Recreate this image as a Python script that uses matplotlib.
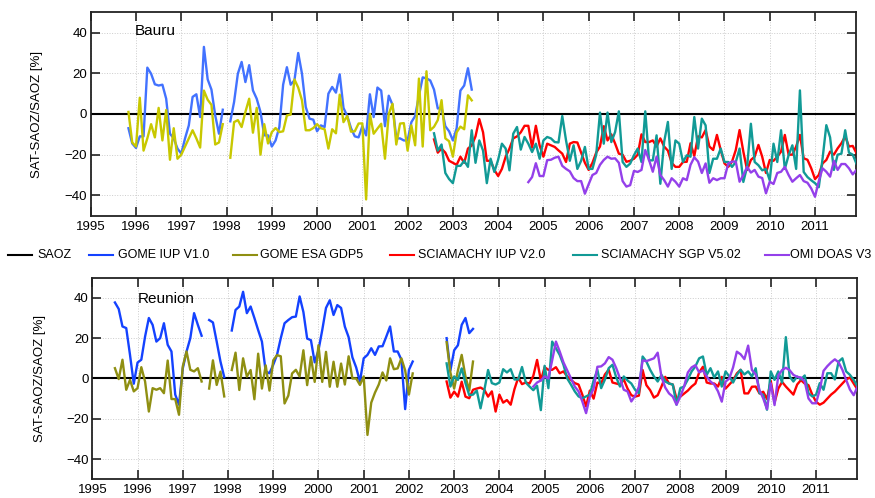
import numpy as np
import matplotlib
matplotlib.use("Agg")
import matplotlib.pyplot as plt
from matplotlib.lines import Line2D

nan = np.nan

# ---- Bauru (monthly values, % difference to SAOZ) ----
bauru_gome_iup_start = (1995, 11)
bauru_gome_iup = [
    -7, -14.5,
    -16.7, -11, -11, 22.8, 19.8, 14.6, 14, 14.4, 7.5, -9.7, -12, -17,
    -19.5, -12, -5.6, 8.4, 9.7, -1.5, 33, 17, 12, -0.7, -9.7, 2.1,
    nan, -3.6, 5.9, 19.8, 25.6, 15.7, 24, 11.6, 7.5, 1, -10.5, -10.5,
    -16, -13, -6.4, 14.4, 23, 14.4, 16.6, 30, 19.8, 3.4, -2.3, -2.8,
    -8.5, -5.6, -6.4, 10, 13.3, 10.5, 19.5, 3, -1, -7, -11, -11.5,
    -6, -10.5, 9.7, -1.5, 13, 11.5, -6, 9, 4.5, -12, -12, -13,
    -13, -4, -1, 9, 18, 17.5, 16.5, 12, 2.7, 3, -6, -8.5,
    -13, -7, 11.5, 14, 22.5, 12,
]
bauru_gome_esa_start = (1995, 11)
bauru_gome_esa = [
    1, -14,
    -16, 8, -18, -12, -5, -11.5, 3, -13, 2, -22.5, -7, -22,
    -20, -16, -12, -8, -12, -16.5, 11.5, 7, 4.5, -15, -14, -5,
    nan, -21.5, -4, -3, -6.4, 1, 7.5, -9.2, 3, -20, -5, -14.5,
    -8.9, -6.9, -8.9, -8.5, -0.7, -0.3, 17, 13, 6.7, -8, -8, -6.9,
    -5, -7, -7.5, -17, -7.5, -9.5, 9.5, -4, -1, -8.7, -8.5, -4.7,
    -4.6, -42, 0, -9.7, -7.2, -4.8, -22, 0, 5, -15, -4.7, -4.5,
    -18, -5.6, -15.4, 17.4, -16, 21, -8, -6.3, -3, 6.8, -12, -13.4,
    -21, -9, -6.2, -7.5, 9.2, 6.7,
]
bauru_scia_iup_start = (2002, 8)
bauru_scia_iup = [
    -12.5, -19, -17, -19, -23,
    -24, -25, -21, -24, -17, -15.5, -11, -2.5, -9, -23, -23, -27.5,
    -30.5, -27, -21, -17, -12, -11, -9, -5.8, -5.8, -16.5, -5.8, -15.5,
    -21, -14.6, -15.4, -16.2, -17.9, -19.5, -23.6, -14.6, -13.8, -14, -19, -24,
    -27.5, -24, -19, -16, -6, -13, -10, -14.5, -19.5, -20, -23.5, -23,
    -22, -20, -10, -13.8, -13.8, -13, -16, -12, -16, -18, -24, -26,
    -26, -23.6, -23.5, -14.4, -20.6, -11, -11.5, -7.9, -16, -17.7, -10.3, -17.7,
    -24.3, -26, -23.4, -17.7, -7.9, -18.5, -27.5, -22.6, -21, -15.2, -21, -29,
    -22.6, -23, -21, -18.5, -10.3, -20, -20, -16, -10.3, -21.8, -22.5, -26.7,
    -32, -30, -24.3, -22.6, -18.5, -20, -16.9, -14.4, -11, -16, -15.7, -19.3,
]
bauru_scia_sgp_start = (2002, 8)
bauru_scia_sgp = [
    -9.5, -18, -15, -29, -32,
    -34, -25.5, -25.5, -23, -26, -8, -24, -13, -18, -34, -22, -28.5,
    -22.5, -14.6, -17, -27.7, -9.7, -6.4, -17.5, -11.3, -14.6, -18.7, -14.6, -22,
    -13, -11.3, -12, -13.8, -14, -1, -13, -23, -15.4, -27, -23, -16.2,
    -27, -27, -20, 0.7, -14.6, 0.7, -13.8, -8.9, 1.3, -23.6, -26, -24.4,
    -20.3, -17, -23.6, 1.3, -22.8, -22.8, -10.5, -34.3, -13.8, -3.9, -27, -13,
    -14.6, -23.6, -20.3, -21, -1.5, -17, -2.3, -5.6, -29, -22, -22, -17,
    -23.6, -23.6, -26, -23.6, -17, -33.4, -26, -4.8, -23.6, -25.2, -27.7, -27,
    -32.6, -14.6, -23.6, -8, -27, -20.3, -15.4, -27, 11.6, -28.5, -31, -32.6,
    -34, -36, -22, -5.5, -11.5, -27.5, -20, -19.5, -8, -19, -20, -24.5,
]
bauru_omi_start = (2004, 9)
bauru_omi = [
    -33.5, -31, -24.2, -30.5,
    -30.5, -22.7, -22.5, -21.5, -21, -25.5, -27, -28.2, -31.5, -33, -33, -39.2,
    -34.5, -30, -29, -25, -22.6, -21, -22, -21.8, -24, -33, -35.7, -35,
    -28, -28.5, -27.5, -17.7, -22.6, -28.4, -21, -30, -32.5, -35.7, -31.6, -33.3,
    -35.7, -31.6, -32.5, -25, -21.3, -23.4, -29, -24.3, -33.8, -31.6, -32.5, -31.6,
    -31.6, -24.3, -23.4, -23.4, -33.3, -30, -26, -28.8, -27.5, -30.8, -31.5, -39,
    -33.3, -34.4, -29, -28.4, -26, -30, -33.3, -31.6, -30, -33, -33.8, -36.6,
    -40.7, -33, -26.7, -28.4, -30.8, -23, -27.5, -24.6, -24.6, -26.7, -29.7, -27.5,
]

# ---- Reunion ----
reunion_gome_iup_start = (1995, 7)
reunion_gome_iup = [
    37.7, 34.5, 25.8, 25, 11.7, -2.6,
    7.9, 9.3, 20.8, 30, 26.6, 18.3, 20, 27.4, 16.7, 13.4, -8, -13,
    5, 13.4, 20, 32.4, 26.6, 21.2, nan, 29, 27.8, 18.3, 8.4, 0.7,
    nan, 23.8, 34, 35.7, 43, 32.4, 35.7, 30, 24, 18.3, 3.5, 2.6,
    6.8, 11.7, 20, 27.4, 29, 30.4, 30.7, 40.7, 33, 19.8, 19, 8,
    14, 24, 35, 38.8, 31.5, 36.4, 35, 25.7, 20.5, 10.5, 5.5, -1.6,
    10, 11.7, 15, 11.7, 15.9, 16, 20.8, 25.8, 13.4, 13.4, 9.3, -15.2,
    4.3, 8.4, nan, nan, nan, nan, nan, nan, nan, nan, 20, 4,
    14, 16.5, 26.6, 30, 22.5, 24.6,
]
reunion_gome_esa_start = (1995, 7)
reunion_gome_esa = [
    5.1, -0.3, 9.3, -5.6, -0.7, -6.4,
    -4.8, 5.6, -1.5, -16.4, -4.8, -5.6, -4.8, -7.3, 8.9, -10.2, -10.2, -18,
    6, 13.4, 4.3, 3.5, 5.1, -1.5, nan, -5, 9, -3.2, 3.4, -8.9,
    nan, 4.2, 12.8, -5.7, 10, 0.9, 4.2, -10.3, 12.3, -5, 6.5, -6,
    9, 11.6, 11, -12.4, -8.5, 2.5, 4.3, 1, 14, -3.3, 10.7, -1.7,
    16.5, -1.7, 13.2, -4.1, 8.3, -4.1, 7.4, -3, 11, 0, 0, -3.2,
    1, -28, -12, -7, -3, 3, -1, 10, 4.6, 5, 10, 4,
    -8, 2.5, nan, nan, nan, nan, nan, nan, nan, nan, 18, 3,
    -5, 4, 11.7, 1, -6, 8.4,
]
reunion_scia_iup_start = (2002, 11)
reunion_scia_iup = [
    -1.5, -9.5,
    -6.5, -9, -1.6, -9, -9.8, -5.6, -5, -4.5, -5.6, -9, -6.4, -16.4,
    -8, -12, -10.7, -13, -5.3, 0.4, -2.8, -2, -2.5, 1.3, 9.2, -1,
    5.6, 4.3, 4.3, 5.6, 2.6, 3.5, 1, -0.7, -2.3, -3, -8, -13.9,
    -6, -10, -2, -2.5, 2, 4.3, -2, -2.5, -3, -0.5, -5, -8.3,
    -9, -8.5, 4.2, -3.3, -5.8, -9.5, -8.3, -4, 0.8, -2.5, -3, -10,
    -9, -7.5, -6, -4, -2.5, 3, 5.8, -2, -2.5, -2.5, -4, 0.8,
    -5, -3, -1, 2.5, 4.3, -7.4, -7.4, -4.1, -4, -7.4, -6.6, -10.2,
    -1.2, -12, -5, -1.7, -4, -6, -8, -3, -0.8, -2.5, -3.3, -8,
    -11.5, -13, -12, -10, -8, -6.5, -4.5, -2.5, -0.5, 0.5, -2.5, -5.5,
]
reunion_scia_sgp_start = (2002, 11)
reunion_scia_sgp = [
    7.5, -4,
    1, -0.7, 5, -2.3, -8.3, -8, -6, -14.8, -5.8, 4.2, -2.3, -3,
    -2, 4.6, 3, 4.6, -0.5, -0.5, 5.7, -2, -4, -5.8, -3.6, -15.7,
    6.3, -4.8, 18.3, 15, 11.7, 6.8, 0, -3.1, -6.4, -8.9, -9.8, -8.9,
    -8, -1, 4.3, -4.8, -0.5, 5.1, 6.8, 0.5, -4, 1, -1, -2.5,
    -5.6, -7.3, 10.9, 8.4, 4.3, 1, -1.5, 1.8, -1.5, -2.5, -3, -13,
    -4.8, -4, -0.5, 3.5, 6, 10, 10.9, 1.8, 5.1, 0.5, 3.5, -4,
    3.5, 1, -2, 1.8, 4.3, 2, 3.5, 1, 5.1, -7.3, -8.1, -15.5,
    3.5, -0.7, 3.5, -2, 20.5, 1, -1.5, 1, -0.5, 1.5, -7.3, -8.9,
    -8.1, -2.3, -5.6, 2.6, 2.6, -0.5, 8.4, 10, 3.5, 1.8, -0.7, -4,
]
reunion_omi_start = (2004, 10)
reunion_omi = [
    -4, -2, -1,
    1, 0, 9, 18.3, 13.4, 8, 4, 0, -4, -6.4, -11.4, -17.2,
    -9, -5, 5.8, 6, 7.5, 10.6, 9.3, 5.1, 0, -5.6, -6.4, -11.4,
    -8.6, -4.1, 9, 8.6, 9.3, 10, 12.8, 0.8, -4.5, -7.4, -9, -13,
    -9, -4, 3, 5.5, 6.6, 3, 4, 1, -1.5, -3, -6.4, -11.5,
    -1.6, 0, 5.5, 13.3, 12, 9.6, 16.3, 4.2, 2, -5.7, -9.9, -15.2,
    -2.4, -13.2, 1.5, 4.2, 5.3, 4.1, 1.8, 0.8, 0.5, -1.5, -9.9, -12.3,
    -12.3, -5.6, 3.8, 6.1, 8, 9.5, 8, 4.3, -0.7, -5.5, -8.3, -4.1,
]

legend_labels = ["SAOZ", "GOME IUP V1.0", "GOME ESA GDP5",
                 "SCIAMACHY IUP V2.0", "SCIAMACHY SGP V5.02", "OMI DOAS V3"]
years = list(range(1995, 2012))
yticks = [-40, -20, 0, 20, 40]


def monthly(start, values):
    y0, m0 = start
    t = y0 + (m0 - 1) / 12 + np.arange(len(values)) / 12
    return t, np.array(values, dtype=float)


plt.rcParams['font.family'] = ['Liberation Sans', 'DejaVu Sans']

fig = plt.figure(figsize=(8.75, 4.98), dpi=100)
ax_top = fig.add_axes([0.1037, 0.5669, 0.8743, 0.4084])
ax_bot = fig.add_axes([0.1055, 0.0376, 0.8736, 0.4048])

top_colors = ["#4272ff", "#c8c800", "#ff0000", "#119a96", "#9440ea"]
bot_colors = ["#1442ff", "#8f8f12", "#ff0000", "#119a96", "#9440ea"]

top_series = [(bauru_gome_iup_start, bauru_gome_iup),
              (bauru_gome_esa_start, bauru_gome_esa),
              (bauru_scia_iup_start, bauru_scia_iup),
              (bauru_scia_sgp_start, bauru_scia_sgp),
              (bauru_omi_start, bauru_omi)]
bot_series = [(reunion_gome_iup_start, reunion_gome_iup),
              (reunion_gome_esa_start, reunion_gome_esa),
              (reunion_scia_iup_start, reunion_scia_iup),
              (reunion_scia_sgp_start, reunion_scia_sgp),
              (reunion_omi_start, reunion_omi)]

for ax, series, colors, name, lab_pos, ylab_x in [
        (ax_top, top_series, top_colors, "Bauru", (0.058, 0.908), -0.062),
        (ax_bot, bot_series, bot_colors, "Reunion", (0.06, 0.893), -0.0606)]:
    ax.axhline(0, color="black", lw=1.5, zorder=2)
    for (start, vals), c in zip(series, colors):
        t, v = monthly(start, vals)
        ax.plot(t, v, color=c, lw=1.7, zorder=3)
    ax.set_xlim(1995, 2011.9)
    ax.set_ylim(-50, 50)
    ax.set_xticks(years)
    ax.set_yticks(yticks)
    ax.grid(True, ls=":", color="#cccccc", lw=0.7)
    ax.set_axisbelow(True)
    ax.tick_params(direction="in", top=True, right=True, length=6.5,
                   width=1.2, labelsize=9.5, color="#222222")
    ax.tick_params(axis="x", pad=3.5)
    ax.tick_params(axis="y", pad=2.5)
    for s in ax.spines.values():
        s.set_linewidth(1.3)
        s.set_color("#222222")
    ax.set_ylabel("SAT-SAOZ/SAOZ [%]", fontsize=9.5)
    ax.yaxis.set_label_coords(ylab_x, 0.5)
    ax.text(lab_pos[0], lab_pos[1], name, transform=ax.transAxes,
            fontsize=11, va="center", ha="left")

# legend strip between the panels
leg_colors = ["black"] + bot_colors
line_x = [8, 89, 233, 390, 573, 765]
text_x = [37, 118, 260, 418, 601, 790]
leg_y = 1 - 255 / 498
for lx, tx, c, lab in zip(line_x, text_x, leg_colors, legend_labels):
    fig.add_artist(Line2D([lx / 875, (lx + 24) / 875], [leg_y, leg_y],
                          color=c, lw=1.5, transform=fig.transFigure))
    fig.text(tx / 875, leg_y, lab, fontsize=9, va="center", ha="left")

fig.savefig("out.png", dpi=100)
